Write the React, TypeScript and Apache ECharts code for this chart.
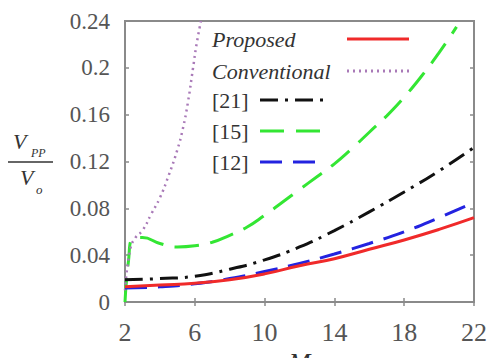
import React, { useEffect, useRef } from "react";
import * as echarts from "echarts";

const xTicks = { min: 2, max: 22, interval: 4 };
const yTicks = { min: 0, max: 0.24, interval: 0.04 };

const proposedX = [2, 4, 6, 8, 10, 12, 14, 16, 18, 20, 22];
const proposedY = [0.013, 0.0145, 0.016, 0.019, 0.024, 0.031, 0.037, 0.045, 0.053, 0.062, 0.072];

const ref12X = [2, 4, 6, 8, 10, 12, 14, 16, 18, 20, 22];
const ref12Y = [0.012, 0.013, 0.0155, 0.02, 0.026, 0.033, 0.041, 0.05, 0.06, 0.072, 0.085];

const ref21X = [2, 4, 6, 8, 10, 12, 14, 16, 18, 20, 22];
const ref21Y = [0.019, 0.02, 0.022, 0.028, 0.036, 0.047, 0.061, 0.077, 0.094, 0.112, 0.132];

const ref15X = [2, 2.2, 2.45, 3, 4, 5, 6, 7, 8, 9, 10, 11, 12, 13, 14, 15, 16, 17, 18, 19, 20, 21];
const ref15Y = [0, 0.035, 0.054, 0.055, 0.05, 0.047, 0.048, 0.051, 0.057, 0.064, 0.074, 0.085, 0.096, 0.107, 0.118, 0.131, 0.145, 0.159, 0.175, 0.193, 0.213, 0.235];

const convX = [2, 2.3, 2.6, 3, 3.5, 4, 4.5, 5, 5.3, 5.6, 5.9, 6.1, 6.35];
const convY = [0.01, 0.045, 0.055, 0.061, 0.075, 0.089, 0.108, 0.13, 0.147, 0.17, 0.2, 0.22, 0.24];

const legendA = ["Proposed", "Conventional"];
const legendB = ["[21]", "[15]", "[12]"];

const SERIF = "Liberation Serif";

const zip = (xs: number[], ys: number[]) => xs.map((x, i) => [x, ys[i]]);

export default function App() {
  const ref = useRef<HTMLDivElement>(null);
  useEffect(() => {
    document.body.style.margin = "0";
    const chart = echarts.init(ref.current!, null, { renderer: "svg" });
    const axisColor = "#8a8a8a";
    const labelColor = "#555";
    const baseX = {
      type: "value" as const,
      min: xTicks.min,
      max: xTicks.max,
      interval: xTicks.interval,
      splitLine: { show: false },
      axisLine: { show: false },
      axisTick: { show: true, inside: true, length: 4, lineStyle: { color: axisColor, width: 1.5 } },
    };
    const baseY = {
      type: "value" as const,
      min: yTicks.min,
      max: yTicks.max,
      interval: yTicks.interval,
      splitLine: { show: false },
      axisLine: { show: false },
      axisTick: { show: true, inside: true, length: 4, lineStyle: { color: axisColor, width: 1.5 } },
    };
    const mk = (name: string, xs: number[], ys: number[], color: string, width: number, type: any, z: number) => ({
      name,
      type: "line",
      data: zip(xs, ys),
      symbol: "none",
      smooth: true,
      z,
      lineStyle: { color, width, type, cap: "butt" },
      itemStyle: { color },
    });
    const legendCommon = {
      orient: "vertical",
      left: 212,
      padding: 0,
      align: "right",
      itemHeight: 14,
      formatter: "{a|{name}}",
      lineStyle: { width: 3 },
      itemStyle: { opacity: 0 },
    };
    const txt = (text: string, x: number, y: number, size: number) => ({
      type: "text",
      x,
      y,
      style: { text, fontFamily: SERIF, fontSize: size, fontStyle: "italic", fill: "#333", verticalAlign: "middle" },
    });
    chart.setOption({
      animation: false,
      textStyle: { fontFamily: SERIF },
      grid: {
        left: 125, right: 14, top: 21, bottom: 56,
        outerBoundsMode: "none", containLabel: false,
        show: true, borderColor: axisColor, borderWidth: 2, backgroundColor: "transparent",
      },
      xAxis: [
        {
          ...baseX,
          position: "bottom",
          name: "M",
          nameLocation: "middle",
          nameGap: 42,
          nameTextStyle: { fontFamily: SERIF, fontStyle: "italic", fontSize: 26, color: "#333" },
          axisLabel: { fontFamily: SERIF, fontSize: 26, color: labelColor, margin: 17 },
        },
        { ...baseX, position: "top", axisLabel: { show: false } },
      ],
      yAxis: [
        {
          ...baseY,
          position: "left",
          axisLabel: { fontFamily: SERIF, fontSize: 23, color: labelColor, margin: 15 },
        },
        { ...baseY, position: "right", axisLabel: { show: false } },
      ],
      legend: [
        {
          ...legendCommon,
          data: legendA,
          top: 28,
          itemWidth: 62,
          itemGap: 10,
          textStyle: {
            fontFamily: SERIF,
            rich: { a: { width: 130, align: "left", fontFamily: SERIF, fontStyle: "italic", fontSize: 22, lineHeight: 22, color: "#333" } },
          },
        },
        {
          ...legendCommon,
          data: legendB,
          top: 89,
          itemWidth: 63,
          itemGap: 9,
          textStyle: {
            fontFamily: SERIF,
            rich: { a: { width: 43, align: "left", fontFamily: SERIF, fontSize: 22, lineHeight: 22, color: "#333" } },
          },
        },
      ],
      series: [
        mk("[15]", ref15X, ref15Y, "#33e633", 3, [24, 12], 2),
        mk("Conventional", convX, convY, "#a97ab8", 2.5, [2, 4], 3),
        mk("[21]", ref21X, ref21Y, "#111111", 3, [18, 7, 3, 7], 4),
        mk("[12]", ref12X, ref12Y, "#2323e0", 3, [22, 11], 5),
        mk("Proposed", proposedX, proposedY, "#f02a2a", 3, "solid", 6),
      ],
      graphic: [
        txt("V", 13, 141, 22),
        txt("PP", 31, 153, 12),
        { type: "line", shape: { x1: 8, y1: 162, x2: 53, y2: 162 }, style: { stroke: "#333", lineWidth: 1.5 } },
        txt("V", 20, 177, 22),
        txt("o", 36, 189, 13),
      ],
    });
    return () => chart.dispose();
  }, []);
  return <div ref={ref} style={{ width: 488, height: 358 }} />;
}
